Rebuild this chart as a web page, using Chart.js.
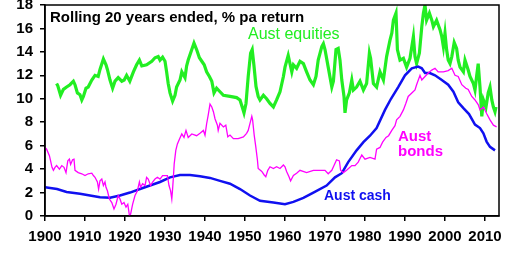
<!DOCTYPE html>
<html><head><meta charset="utf-8">
<script src="https://cdn.jsdelivr.net/npm/chart.js@4"></script>
<style>html,body{margin:0;padding:0;background:#fff}#wrap{width:520px;height:254px}</style>
</head><body><div id="wrap"><canvas id="c" width="520" height="254"></canvas></div>
<script>
const xTickValues = [1900,1910,1920,1930,1940,1950,1960,1970,1980,1990,2000,2010];
const yTickValues = [0,2,4,6,8,10,12,14,16,18];

const equityYears = [1902.9,1903.2,1903.9,1904.6,1905.4,1906.25,1907.1,1907.5,1908.1,1908.75,1909.2,1909.6,1910.25,1910.8,1911.7,1912.5,1913.3,1913.75,1914.6,1915.25,1915.6,1916.25,1916.9,1917.5,1918.3,1919.2,1919.8,1920.4,1921.2,1922.1,1922.9,1923.6,1924.2,1925.4,1926.7,1927.5,1928.3,1928.75,1929.4,1930,1930.4,1930.8,1931.25,1931.9,1932.5,1932.9,1933.75,1934.2,1935,1935.4,1935.8,1936.7,1937.25,1937.9,1938.6,1939.2,1939.8,1940.4,1941.1,1941.7,1942.25,1942.9,1943.75,1944.6,1946.25,1947.9,1948.75,1949.4,1949.75,1950.25,1950.8,1951.4,1951.8,1952.25,1952.75,1953.3,1953.75,1954.6,1955.4,1956.25,1957.1,1957.9,1958.75,1959.6,1960,1960.8,1961.7,1962.1,1962.9,1963.75,1964.6,1965.4,1966.25,1967.1,1967.75,1968.3,1969.2,1969.6,1970,1970.8,1971.7,1972.1,1972.75,1973.3,1973.75,1974.2,1974.75,1975,1975.4,1976.1,1976.7,1977.1,1977.9,1978.75,1979.6,1980.4,1981.1,1981.4,1982.1,1982.9,1983.75,1984.6,1985.4,1986.25,1986.7,1987.1,1987.75,1988.1,1988.75,1989.6,1990.4,1991.25,1992.1,1992.5,1992.9,1993.6,1994.2,1994.6,1995,1995.4,1996.1,1996.7,1997.1,1997.9,1998.75,1999.2,1999.6,2000,2000.4,2000.8,2001.25,2001.7,2002.3,2002.9,2003.3,2003.75,2004.6,2005,2005.8,2006.25,2007.1,2007.5,2007.9,2008.3,2008.75,2009.2,2009.6,2010.25,2010.8,2011.25,2011.7,2012.1,2012.5,2012.75];
const equityValues = [11.3,11.1,10.3,10.8,11.0,11.2,11.5,11.2,10.5,10.35,9.9,10.2,10.9,11.0,11.6,12.0,11.9,12.5,13.4,12.9,12.5,11.6,10.9,11.5,11.8,11.5,11.6,12.0,11.5,12.3,12.9,13.3,12.8,12.9,13.2,13.5,13.6,13.3,13.55,13.2,12.3,11.3,10.5,9.8,10.3,11.0,11.6,12.3,11.8,12.8,13.3,14.2,14.75,14.2,13.5,13.2,12.9,12.3,11.9,11.5,10.5,10.9,10.6,10.3,10.2,10.1,9.9,9.2,8.8,9.6,11.9,13.9,14.2,12.8,11.05,10.2,9.9,10.3,10.0,9.6,9.3,9.9,10.6,11.9,12.7,13.7,12.3,12.9,12.6,13.2,13.0,12.3,11.6,11.2,11.9,13.3,14.45,14.7,14.2,12.7,11.0,11.5,14.2,14.3,13.3,11.6,10.2,8.8,9.9,10.5,11.6,10.75,11.0,11.5,10.75,11.3,13.9,13.45,11.3,11.0,12.3,11.6,13.6,15.0,15.6,16.7,17.3,14.2,13.3,13.45,12.7,13.45,15.3,13.6,13.0,13.9,16.15,17.3,18.0,16.7,17.3,16.7,16.15,16.7,15.9,15.3,14.45,15.6,14.2,13.3,13.0,13.6,14.8,14.3,13.3,12.7,12.3,13.3,12.45,11.9,11.3,10.75,11.9,13.0,11.0,8.5,9.9,9.3,10.5,11.0,9.9,9.3,8.9,9.3];

const bondYears = [1900,1900.4,1901.1,1901.4,1901.75,1902.1,1902.5,1902.9,1903.6,1904.2,1904.75,1905.25,1905.7,1906.1,1906.4,1906.9,1907.25,1907.5,1908.3,1909.2,1910,1910.8,1911.7,1912.1,1912.5,1913.1,1913.4,1913.75,1914.2,1914.6,1915,1915.25,1915.6,1916.1,1916.7,1917.25,1917.75,1918.3,1918.75,1919.2,1919.75,1920.25,1920.7,1921.1,1921.4,1921.9,1922.5,1923.1,1923.6,1923.9,1924.4,1925,1925.4,1925.8,1926.4,1926.9,1927.5,1928.1,1928.75,1929.4,1930,1930.6,1931,1931.4,1931.7,1931.9,1932.1,1932.3,1932.7,1933.1,1933.6,1934.2,1934.75,1935.25,1935.8,1936.7,1937.9,1938.75,1939.6,1940,1940.4,1940.8,1941.25,1941.7,1942.1,1942.5,1943.1,1943.3,1943.75,1944.6,1945.2,1945.7,1946.25,1947.1,1948.3,1949.6,1950.4,1950.8,1951.25,1951.7,1951.9,1952.3,1952.7,1953.1,1953.3,1954.2,1954.8,1955.2,1955.7,1956.25,1957.1,1957.9,1958.75,1959.6,1960,1960.4,1961,1961.4,1962.1,1962.9,1963.75,1965.4,1967.1,1968.75,1970,1970.8,1971.7,1972.25,1972.9,1973.6,1973.9,1974.6,1975.4,1976.7,1977.5,1978.3,1979.2,1980,1981.25,1982.5,1982.9,1983.75,1984.4,1985.25,1985.9,1986.7,1987.5,1987.9,1988.75,1989.6,1990.2,1990.8,1991.7,1992.5,1992.9,1993.75,1994.2,1995,1995.8,1996.7,1997.5,1998.3,1999.6,2000.8,2001.7,2002.5,2003.3,2004.2,2005.2,2005.8,2006.7,2007.5,2008.3,2008.75,2009.6,2010.4,2011.25,2012.1,2012.9];
const bondValues = [5.85,5.7,5.15,4.7,4.15,3.9,4.15,4.3,4.0,4.3,4.15,3.7,4.7,4.85,4.4,4.8,4.85,3.9,3.7,3.6,3.45,3.6,3.65,3.45,3.3,2.9,2.3,3.0,3.15,2.6,2.9,2.45,2.15,1.45,1.15,0.6,1.0,1.75,1.45,1.0,1.15,0.75,1.0,0.05,0.15,1.0,1.75,2.15,2.9,2.45,2.75,2.6,3.3,3.15,2.6,2.9,3.15,3.3,3.15,3.45,3.45,3.45,2.6,2.15,1.45,2.3,3.3,4.45,5.6,6.15,6.55,7.0,6.7,7.3,6.7,7.0,6.85,7.05,7.3,6.9,7.85,8.6,9.55,9.3,8.9,8.3,7.75,7.3,7.9,7.6,7.75,6.75,6.9,6.6,6.6,6.75,7.05,7.3,7.9,8.5,8.2,6.9,5.9,4.8,4.05,3.8,3.5,3.35,3.9,4.2,4.05,4.2,4.05,4.35,4.2,3.8,3.35,3.0,3.45,3.65,3.9,3.7,3.9,3.9,3.9,3.6,3.9,4.3,4.8,4.7,3.9,3.7,3.9,4.3,4.3,4.6,5.2,4.85,5.0,4.85,5.7,5.85,6.3,6.7,6.85,7.3,7.7,8.2,8.5,9.05,9.6,10.2,10.5,10.75,11.2,12.0,11.6,11.9,12.2,12.45,12.6,12.3,12.3,12.4,12.6,12.0,11.9,11.2,10.9,10.8,10.2,9.9,9.5,9.05,9.3,8.75,8.2,7.75,7.6];

const cashYears = [1900,1903,1905.4,1908.75,1911.25,1913.75,1916.25,1918.75,1921.25,1923.75,1926.25,1928.75,1931.25,1933.75,1936.25,1938.75,1941.25,1943.75,1946.25,1948.75,1951.25,1953.75,1957.1,1960,1962.1,1964.6,1967.1,1970.4,1972.5,1974.2,1975.8,1977.9,1979.6,1981.25,1982.9,1985,1986.5,1988.3,1990,1991.7,1993.3,1994.2,1995,1996.2,1997.5,1999.2,2000.8,2002.1,2003.3,2004.6,2006,2007.5,2008.75,2009.6,2010.4,2011.25,2012.5];
const cashValues = [2.45,2.3,2.05,1.9,1.75,1.6,1.55,1.75,2.0,2.3,2.6,2.9,3.3,3.5,3.5,3.4,3.25,3.0,2.75,2.3,1.75,1.3,1.15,1.0,1.2,1.55,2.0,2.6,3.3,3.65,4.6,5.6,6.3,6.85,7.5,9.05,10.0,11.0,12.0,12.6,12.75,12.6,12.2,12.2,12.0,11.6,11.2,10.6,9.7,9.2,8.7,7.8,7.5,7.05,6.35,5.9,5.6];

const titleText = "Rolling 20 years ended, % pa return";
const seriesLabels = ["Aust equities", "Aust bonds", "Aust cash"];

const pts = (xs, ys) => xs.map((x, i) => ({x, y: ys[i]}));
const FONT = "'Liberation Sans', Arial, sans-serif";

const annot = {
  id: 'annot',
  afterDatasetsDraw(chart) {
    const {ctx, chartArea: a, scales: {x, y}} = chart;
    ctx.save();
    ctx.textAlign = 'left';
    ctx.textBaseline = 'alphabetic';
    ctx.fillStyle = '#000';
    ctx.font = "bold 15px " + FONT;
    ctx.fillText(titleText, a.left + 5, a.top + 17);
    ctx.fillStyle = '#22EE22';
    ctx.font = "16px " + FONT;
    ctx.fillText(seriesLabels[0], x.getPixelForValue(1950.75), y.getPixelForValue(15.1));
    ctx.fillStyle = '#FF00FF';
    ctx.font = "bold 15px " + FONT;
    const bw = seriesLabels[1].split(' ');
    ctx.fillText(bw[0], x.getPixelForValue(1988.25), y.getPixelForValue(6.4));
    ctx.fillText(bw[1], x.getPixelForValue(1988.25), y.getPixelForValue(5.1));
    ctx.fillStyle = '#1010F0';
    ctx.font = "bold 14px " + FONT;
    ctx.fillText(seriesLabels[2], x.getPixelForValue(1969.75), y.getPixelForValue(1.37));
    ctx.strokeStyle = '#000';
    ctx.lineWidth = 1.5;
    ctx.strokeRect(a.left, a.top, a.right - a.left, a.bottom - a.top);
    ctx.restore();
  }
};

new Chart(document.getElementById('c'), {
  type: 'line',
  data: {
    datasets: [
      {label: seriesLabels[1], data: pts(bondYears, bondValues), borderColor: '#FF00FF', borderWidth: 1.3},
      {label: seriesLabels[2], data: pts(cashYears, cashValues), borderColor: '#1010F0', borderWidth: 2.5},
      {label: seriesLabels[0], data: pts(equityYears, equityValues), borderColor: '#22EE22', borderWidth: 3.2},
    ]
  },
  options: {
    responsive: false,
    animation: false,
    elements: {point: {radius: 0}, line: {tension: 0, borderJoinStyle: 'miter'}},
    layout: {padding: {top: 5, right: 21, left: 0, bottom: 0}},
    plugins: {legend: {display: false}, tooltip: {enabled: false}},
    scales: {
      x: {
        type: 'linear', min: 1900, max: 2013.5,
        afterBuildTicks: s => { s.ticks = xTickValues.map(v => ({value: v})); },
        afterFit: s => { s.height = 38; s.paddingLeft = 0; s.paddingRight = 0; },
        grid: {drawOnChartArea: false, tickLength: 5, color: '#000', lineWidth: 1.5},
        border: {color: '#000', width: 1.5},
        ticks: {color: '#000', font: {family: FONT, size: 15, weight: 'bold'}, padding: 7, maxRotation: 0, autoSkip: false,
                callback: v => String(v)}
      },
      y: {
        type: 'linear', min: 0, max: 18,
        afterBuildTicks: s => { s.ticks = yTickValues.map(v => ({value: v})); },
        afterFit: s => { s.width = 45; s.paddingTop = 0; s.paddingBottom = 0; },
        grid: {drawOnChartArea: false, tickLength: 5, color: '#000', lineWidth: 1.5},
        border: {color: '#000', width: 1.5},
        ticks: {color: '#000', font: {family: FONT, size: 15, weight: 'bold'}, padding: 7, callback: v => String(v)}
      }
    }
  },
  plugins: [annot]
});
</script></body></html>
